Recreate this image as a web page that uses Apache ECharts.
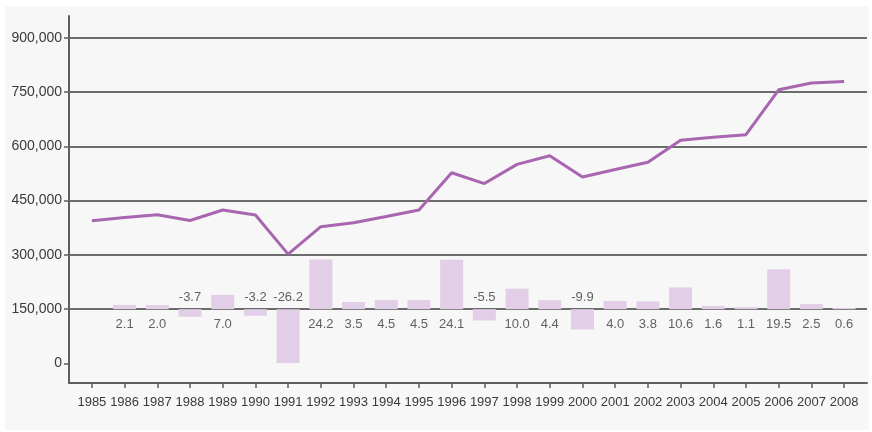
<!DOCTYPE html>
<html>
<head>
<meta charset="utf-8">
<script src="https://cdn.jsdelivr.net/npm/echarts@6/dist/echarts.min.js"></script>
<style>
  html, body { margin: 0; padding: 0; background: #ffffff; }
  #wrap { position: relative; width: 872px; height: 432px; }
  #panel { position: absolute; left: 5px; top: 6px; width: 864px; height: 424px; background: #f7f7f7; }
  #main { position: absolute; left: 0; top: 0; width: 872px; height: 432px; }
</style>
</head>
<body>
<div id="wrap">
  <div id="panel"></div>
  <div id="main"></div>
</div>
<script>
var years = [1985,1986,1987,1988,1989,1990,1991,1992,1993,1994,1995,1996,
             1997,1998,1999,2000,2001,2002,2003,2004,2005,2006,2007,2008];
var totals = [394000,403000,411000,395000,424000,410000,302000,378000,389000,406000,424000,527000,
              497000,550000,574000,515000,536000,556000,617000,625000,632000,756000,775000,779000];
// yearly change in percent (none for the first year)
var change = [null,2.1,2.0,-3.7,7.0,-3.2,-26.2,24.2,3.5,4.5,4.5,24.1,
              -5.5,10.0,4.4,-9.9,4.0,3.8,10.6,1.6,1.1,19.5,2.5,0.6];
var yTicks = [0,150000,300000,450000,600000,750000,900000];
// horizontal rules (no rule on 0)
var gridValues = [150000,300000,450000,600000,750000,900000];

var font = 'Liberation Sans, Arial, sans-serif';
var textColor = '#3a3a3a';
var axisColor = '#5e5e5e';

var lineData = years.map(function (y, i) { return [y, totals[i]]; });
var barData = [];
var labelData = [];
years.forEach(function (y, i) {
  if (change[i] === null) return;
  barData.push([y, change[i]]);
  labelData.push({
    value: [y, 0, change[i]],
    label: {
      position: change[i] < 0 ? 'top' : 'bottom',
      distance: change[i] < 0 ? 5 : 9
    }
  });
});

var chart = echarts.init(document.getElementById('main'));

chart.setOption({
  animation: false,
  grid: { left: 69, right: 5, top: 16, bottom: 49, containLabel: false },
  xAxis: {
    type: 'value',
    min: 1984.3,
    max: 2008.7,
    axisLine: { onZero: false, lineStyle: { color: axisColor, width: 2 } },
    axisTick: { show: true, customValues: years, length: 5, lineStyle: { color: axisColor, width: 1.5 } },
    axisLabel: {
      show: true,
      customValues: years,
      hideOverlap: false,
      showMinLabel: true,
      showMaxLabel: true,
      margin: 13,
      color: textColor,
      fontFamily: font,
      fontSize: 13,
      formatter: function (v) { return String(v); }
    },
    splitLine: { show: false }
  },
  yAxis: [
    {
      type: 'value',
      min: -54000,
      max: 960000,
      axisLine: { show: true, onZero: false, lineStyle: { color: axisColor, width: 2 } },
      axisTick: { show: true, customValues: yTicks, length: 5, lineStyle: { color: axisColor, width: 1.5 } },
      axisLabel: {
        customValues: yTicks,
        margin: 7,
        color: textColor,
        fontFamily: font,
        fontSize: 14,
        formatter: function (v) { return echarts.format.addCommas(v); }
      },
      splitLine: { show: false }
    },
    {
      // percent scale for the change bars, 0 % sits on the 150,000 line
      type: 'value',
      min: -36,
      max: 143,
      show: false,
      splitLine: { show: false }
    }
  ],
  series: [
    {
      name: 'change',
      type: 'bar',
      yAxisIndex: 1,
      barWidth: 23,
      data: barData,
      itemStyle: { color: '#e2cee6' },
      z: 3
    },
    {
      name: 'labels',
      type: 'scatter',
      yAxisIndex: 1,
      symbolSize: 0,
      data: labelData,
      label: {
        show: true,
        color: textColor,
        fontFamily: font,
        fontSize: 13,
        formatter: function (p) { return p.value[2].toFixed(1); }
      },
      z: 4
    },
    {
      name: 'total',
      type: 'line',
      data: lineData,
      showSymbol: false,
      symbol: 'none',
      lineStyle: { color: '#a865b0', width: 3 },
      z: 5,
      markLine: {
        silent: true,
        symbol: 'none',
        label: { show: false },
        z: 1,
        lineStyle: { color: '#6c6c6c', width: 2, type: 'solid' },
        data: gridValues.map(function (v) { return { yAxis: v }; })
      }
    }
  ]
});
</script>
</body>
</html>
